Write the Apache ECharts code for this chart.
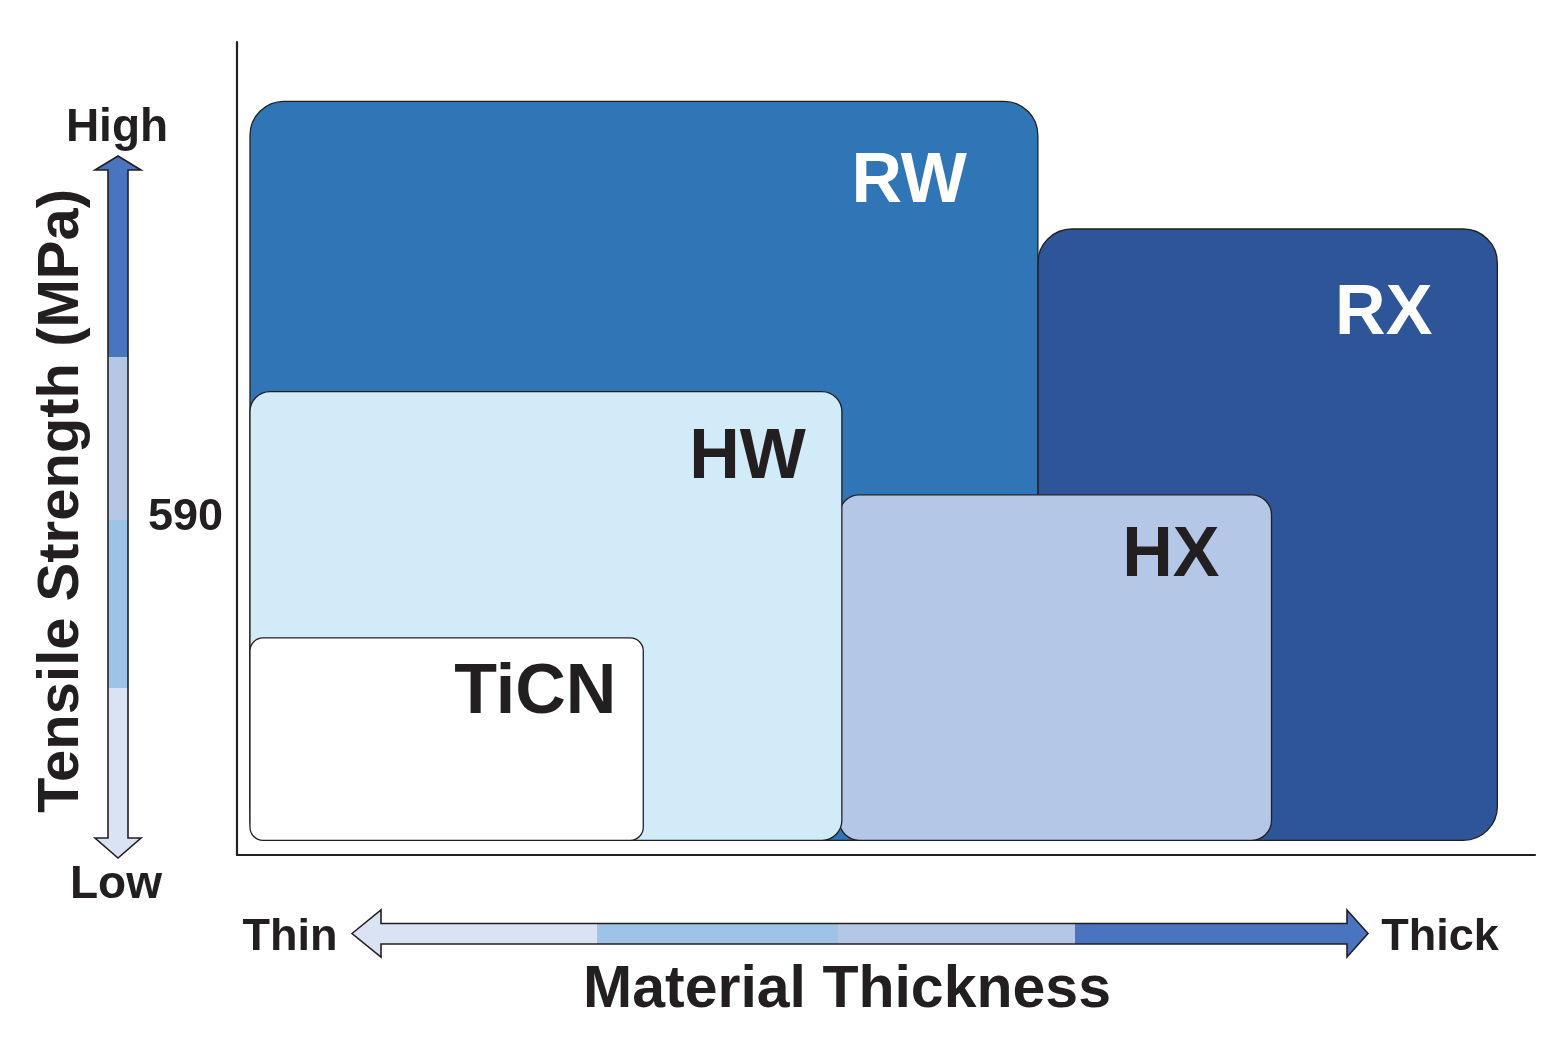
<!DOCTYPE html>
<html>
<head>
<meta charset="utf-8">
<script src="https://cdn.jsdelivr.net/npm/echarts@6/dist/echarts.min.js"></script>
<style>
html,body{margin:0;padding:0;background:#fff;}
#chart{width:1548px;height:1038px;}
</style>
</head>
<body>
<div id="chart"></div>
<script>
// ---- data ----
var categories = ['RX', 'RW', 'HX', 'HW', 'TiCN'];
var thicknessStart = [61.7, 1.0, 46.4, 1.0, 1.0];
var thicknessEnd   = [97.1, 61.7, 79.7, 46.6, 31.3];
var strengthStart  = [1.8, 1.8, 1.8, 1.8, 1.8];
var strengthEnd    = [77.0, 92.7, 44.3, 57.0, 26.7];
var yTickValues = [41.5];
var yTickLabels = ['590'];

// ---- styles ----
var INK = '#231f20';
var FONT = '"Liberation Sans", Arial, Helvetica, sans-serif';
var boxStyle = {
  RX:   {fill: '#2e5597', color: '#ffffff', r: 34, dx: 65, dy: 86},
  RW:   {fill: '#3075b5', color: '#ffffff', r: 34, dx: 71, dy: 81},
  HX:   {fill: '#b5c7e7', color: INK, r: 20, dx: 52, dy: 62},
  HW:   {fill: '#d1ecf8', color: INK, r: 20, dx: 36, dy: 67},
  TiCN: {fill: '#ffffff', color: INK, r: 13, dx: 27, dy: 56}
};

var boxData = categories.map(function (c, i) {
  return [thicknessStart[i], thicknessEnd[i], strengthStart[i], strengthEnd[i]];
});

var chart = echarts.init(document.getElementById('chart'), null, {renderer: 'canvas'});

function hardGradient(x, y, x2, y2, stops) {
  var cs = [];
  stops.forEach(function (s) {
    cs.push({offset: s[0], color: s[2]});
    cs.push({offset: s[1], color: s[2]});
  });
  return {type: 'linear', x: x, y: y, x2: x2, y2: y2, global: true, colorStops: cs};
}

var C_DARK = '#4a74bf', C_B = '#b4c7e7', C_C = '#9dc3e6', C_D = '#dae3f3';

// vertical arrow (tip 156 .. tip 858)
var vTop = 156, vBot = 858;
function vOff(p) { return (p - vTop) / (vBot - vTop); }
var vGrad = hardGradient(0, vTop, 0, vBot, [
  [0, vOff(357), C_DARK],
  [vOff(357), vOff(520), C_B],
  [vOff(520), vOff(688), C_C],
  [vOff(688), 1, C_D]
]);
// horizontal arrow (tip 352 .. tip 1368)
var hL = 352, hR = 1368;
function hOff(p) { return (p - hL) / (hR - hL); }
var hGrad = hardGradient(hL, 0, hR, 0, [
  [0, hOff(597), C_D],
  [hOff(597), hOff(838), C_C],
  [hOff(838), hOff(1075), C_B],
  [hOff(1075), 1, C_DARK]
]);

var option = {
  animation: false,
  backgroundColor: '#ffffff',
  grid: {left: 237, right: 13, top: 42, bottom: 183},
  xAxis: {
    type: 'value', min: 0, max: 100,
    axisLine: {show: true, lineStyle: {color: INK, width: 2.2}},
    axisTick: {show: false}, axisLabel: {show: false}, splitLine: {show: false}
  },
  yAxis: {
    type: 'value', min: 0, max: 100,
    axisLine: {show: true, lineStyle: {color: INK, width: 2.2}},
    axisTick: {show: false},
    splitLine: {show: false},
    axisLabel: {
      show: true, customValues: yTickValues, margin: 14,
      padding: [8, 0, 0, 0],
      color: INK, fontFamily: FONT, fontWeight: 'bold', fontSize: 45,
      formatter: function (v) {
        for (var i = 0; i < yTickValues.length; i++) {
          if (Math.abs(yTickValues[i] - v) < 1e-6) return yTickLabels[i];
        }
        return '';
      }
    }
  },
  series: [{
    type: 'custom',
    data: boxData,
    encode: {x: [0, 1], y: [2, 3]},
    renderItem: function (params, api) {
      var name = categories[params.dataIndex];
      var st = boxStyle[name];
      var p0 = api.coord([api.value(0), api.value(3)]);
      var p1 = api.coord([api.value(1), api.value(2)]);
      return {
        type: 'group',
        children: [{
          type: 'rect',
          shape: {x: p0[0], y: p0[1], width: p1[0] - p0[0], height: p1[1] - p0[1], r: st.r},
          style: {fill: st.fill, stroke: INK, lineWidth: 1.3}
        }, {
          type: 'text',
          x: p1[0] - st.dx, y: p0[1] + st.dy,
          style: {
            text: name, fill: st.color, align: 'right', verticalAlign: 'middle',
            font: 'bold 70px ' + FONT
          }
        }]
      };
    }
  }],
  graphic: [
    // vertical arrow
    {type: 'polygon', z: 10,
      shape: {points: [[118, vTop], [141, 170], [128, 170], [128, 838], [141, 838], [118, vBot], [95, 838], [108, 838], [108, 170], [95, 170]]},
      style: {fill: vGrad, stroke: INK, lineWidth: 1.6, lineJoin: 'miter'}},
    // horizontal arrow
    {type: 'polygon', z: 10,
      shape: {points: [[hL, 933.5], [381, 910], [381, 923.5], [1347, 923.5], [1347, 910], [hR, 933.5], [1347, 957], [1347, 944], [381, 944], [381, 957]]},
      style: {fill: hGrad, stroke: INK, lineWidth: 1.6, lineJoin: 'miter'}},
    {type: 'text', x: 117, y: 128, z: 10,
      style: {text: 'High', fill: INK, align: 'center', verticalAlign: 'middle', font: 'bold 46px ' + FONT}},
    {type: 'text', x: 116, y: 885, z: 10,
      style: {text: 'Low', fill: INK, align: 'center', verticalAlign: 'middle', font: 'bold 46px ' + FONT}},
    {type: 'text', x: 62, y: 501, rotation: Math.PI / 2, z: 10,
      style: {text: 'Tensile Strength (MPa)', fill: INK, align: 'center', verticalAlign: 'middle', font: 'bold 58px ' + FONT}},
    {type: 'text', x: 290, y: 938, z: 10,
      style: {text: 'Thin', fill: INK, align: 'center', verticalAlign: 'middle', font: 'bold 45px ' + FONT}},
    {type: 'text', x: 1440, y: 938, z: 10,
      style: {text: 'Thick', fill: INK, align: 'center', verticalAlign: 'middle', font: 'bold 45px ' + FONT}},
    {type: 'text', x: 847, y: 991, z: 10,
      style: {text: 'Material Thickness', fill: INK, align: 'center', verticalAlign: 'middle', font: 'bold 59px ' + FONT}}
  ]
};
chart.setOption(option);
</script>
</body>
</html>
